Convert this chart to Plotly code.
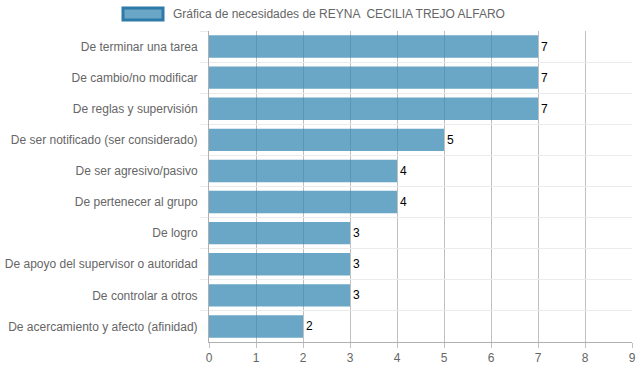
import plotly.graph_objects as go

categories = [
    "De terminar una tarea",
    "De cambio/no modificar",
    "De reglas y supervisión",
    "De ser notificado (ser considerado)",
    "De ser agresivo/pasivo",
    "De pertenecer al grupo",
    "De logro",
    "De apoyo del supervisor o autoridad",
    "De controlar a otros",
    "De acercamiento y afecto (afinidad)",
]
values = [7, 7, 7, 5, 4, 4, 3, 3, 3, 2]
series_name = "Gráfica de necesidades de REYNA  CECILIA TREJO ALFARO"
x_ticks = list(range(0, 10))

bar_fill = "rgba(56,136,178,0.75)"
bar_line = "rgba(46,122,168,1)"
font = "Liberation Sans, Arial, sans-serif"

fig = go.Figure()
fig.add_trace(go.Bar(
    x=values,
    y=categories,
    orientation="h",
    name=series_name,
    marker=dict(color=bar_fill, line=dict(width=0)),
    width=0.72,
    text=[str(v) for v in values],
    textposition="outside",
    textfont=dict(family=font, size=12, color="#000"),
    cliponaxis=False,
    showlegend=False,
))

fig.update_layout(
    width=639,
    height=372,
    margin=dict(l=209, r=7, t=31, b=30, autoexpand=False),
    paper_bgcolor="white",
    plot_bgcolor="white",
    font=dict(family=font, size=12, color="#666"),
    showlegend=False,
    xaxis=dict(
        range=[0, 9],
        tickvals=x_ticks,
        ticktext=[str(t) for t in x_ticks],
        showgrid=True,
        gridcolor="#c0c0c0",
        gridwidth=1,
        zeroline=False,
        showline=True,
        linecolor="#b0b0b0",
        ticks="outside",
        ticklen=5,
        tickcolor="#c0c0c0",
        tickfont=dict(family=font, size=12, color="#666"),
        automargin=False,
        fixedrange=True,
    ),
    yaxis=dict(
        autorange="reversed",
        type="category",
        tickson="boundaries",
        showgrid=True,
        gridcolor="#ebebeb",
        gridwidth=1,
        showline=True,
        linecolor="#b0b0b0",
        ticks="outside",
        ticklen=8,
        tickcolor="#ebebeb",
        ticklabelstandoff=8,
        tickfont=dict(family=font, size=12, color="#666"),
        automargin=False,
    ),
)

# legend-like header
fig.add_shape(
    type="rect", xref="paper", yref="paper",
    x0=(123 - 209) / 423, x1=(163 - 209) / 423,
    y0=1 + (31 - 20) / 311, y1=1 + (31 - 8) / 311,
    fillcolor=bar_fill, line=dict(color=bar_line, width=3),
)
fig.add_annotation(
    text=series_name, xref="paper", yref="paper",
    x=(171 - 209) / 423, y=1 + (31 - 14) / 311,
    xanchor="left", yanchor="middle", showarrow=False,
    font=dict(family=font, size=12, color="#666"),
)

fig.write_html(
    "out.html",
    config={"displayModeBar": False},
    post_script="document.body.style.margin='0px';document.body.style.overflow='hidden';",
)
